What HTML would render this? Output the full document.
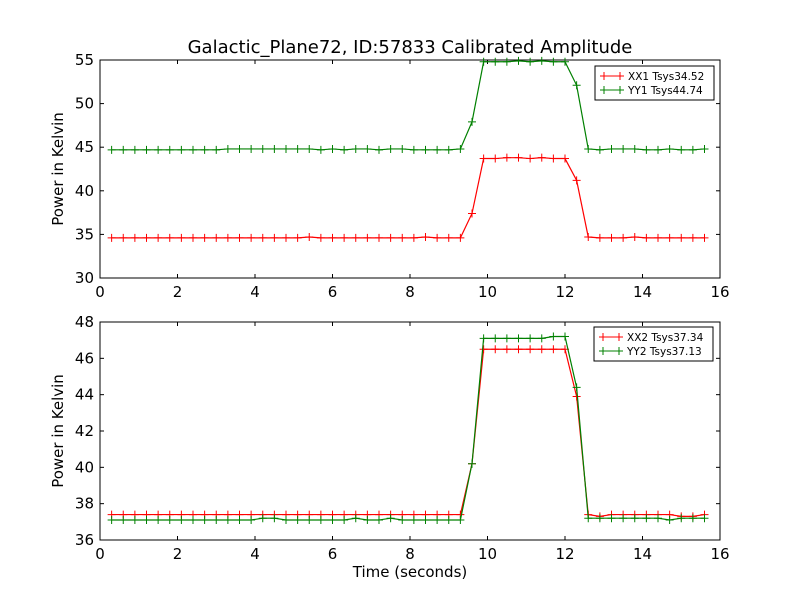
<!DOCTYPE html>
<html><head><meta charset="utf-8"><style>
body{margin:0;background:#fff;}
svg text{font-family:"DejaVu Sans","Liberation Sans",sans-serif;}
</style></head><body>
<svg id="chart" width="800" height="600" xmlns="http://www.w3.org/2000/svg">
<rect width="800" height="600" fill="#fff"/>
<text x="410" y="53" font-size="18" text-anchor="middle">Galactic_Plane72, ID:57833 Calibrated Amplitude</text>
<text x="410" y="577" font-size="15" text-anchor="middle">Time (seconds)</text>
<g id="p1"></g><g id="p2"></g>
</svg>
<script>
const times=[];for(let i=1;i<=52;i++)times.push(+(0.3*i).toFixed(1));
const xx1=[34.6,34.6,34.6,34.6,34.6,34.6,34.6,34.6,34.6,34.6,34.6,34.6,34.6,34.6,34.6,34.6,34.6,34.7,34.6,34.6,34.6,34.6,34.6,34.6,34.6,34.6,34.6,34.7,34.6,34.6,34.6,37.4,43.7,43.7,43.8,43.8,43.7,43.8,43.7,43.7,41.2,34.7,34.6,34.6,34.6,34.7,34.6,34.6,34.6,34.6,34.6,34.6];
const yy1=[44.7,44.7,44.7,44.7,44.7,44.7,44.7,44.7,44.7,44.7,44.8,44.8,44.8,44.8,44.8,44.8,44.8,44.8,44.7,44.8,44.7,44.8,44.8,44.7,44.8,44.8,44.7,44.7,44.7,44.7,44.8,47.9,54.8,54.8,54.8,54.9,54.8,54.9,54.8,54.8,52.1,44.8,44.7,44.8,44.8,44.8,44.7,44.7,44.8,44.7,44.7,44.8];
const xx2=[37.4,37.4,37.4,37.4,37.4,37.4,37.4,37.4,37.4,37.4,37.4,37.4,37.4,37.4,37.4,37.4,37.4,37.4,37.4,37.4,37.4,37.4,37.4,37.4,37.4,37.4,37.4,37.4,37.4,37.4,37.4,40.2,46.5,46.5,46.5,46.5,46.5,46.5,46.5,46.5,43.9,37.4,37.3,37.4,37.4,37.4,37.4,37.4,37.4,37.3,37.3,37.4];
const yy2=[37.1,37.1,37.1,37.1,37.1,37.1,37.1,37.1,37.1,37.1,37.1,37.1,37.1,37.2,37.2,37.1,37.1,37.1,37.1,37.1,37.1,37.2,37.1,37.1,37.2,37.1,37.1,37.1,37.1,37.1,37.1,40.2,47.1,47.1,47.1,47.1,47.1,47.1,47.2,47.2,44.4,37.2,37.2,37.2,37.2,37.2,37.2,37.2,37.1,37.2,37.2,37.2];
const xTicks=[0,2,4,6,8,10,12,14,16];
const y1Ticks=[30,35,40,45,50,55];
const y2Ticks=[36,38,40,42,44,46,48];
const NS="http://www.w3.org/2000/svg";
function mk(p,t,a){const e=document.createElementNS(NS,t);for(const k in a)e.setAttribute(k,a[k]);p.appendChild(e);return e;}
function panel(g,top,bottom,ymin,ymax,yTicks,series,legend,legX,legY){
  const L=100,R=720;
  const sx=v=>L+(v-0)/(16-0)*(R-L);
  const sy=v=>bottom-(v-ymin)/(ymax-ymin)*(bottom-top);
  const frame=mk(g,'rect',{x:L,y:top,width:R-L,height:bottom-top,fill:'none',stroke:'#000','stroke-width':1});
  
  
  xTicks.forEach(t=>{
    const x=sx(t);
    mk(g,'line',{x1:x,x2:x,y1:bottom,y2:bottom-4,stroke:'#000'});
    mk(g,'line',{x1:x,x2:x,y1:top,y2:top+4,stroke:'#000'});
    const tx=mk(g,'text',{x:x,y:bottom+19,'font-size':15,'text-anchor':'middle'});tx.textContent=t;
    
    
  });
  yTicks.forEach(t=>{
    const y=sy(t);
    mk(g,'line',{x1:L,x2:L+4,y1:y,y2:y,stroke:'#000'});
    mk(g,'line',{x1:R,x2:R-4,y1:y,y2:y,stroke:'#000'});
    const tx=mk(g,'text',{x:L-6,y:y+5,'font-size':15,'text-anchor':'end'});tx.textContent=t;
    
    
  });
  const yt=mk(g,'text',{x:0,y:0,'font-size':15,'text-anchor':'middle',transform:`translate(63,${(top+bottom)/2}) rotate(-90)`});
  yt.textContent='Power in Kelvin';
  
  
  series.forEach(s=>{
    const pts=times.map((t,i)=>sx(t)+','+sy(s.v[i])).join(' ');
    const pl=mk(g,'polyline',{points:pts,fill:'none',stroke:s.c,'stroke-width':1.2});
    
    
    times.forEach((t,i)=>{
      const x=sx(t),y=sy(s.v[i]);
      mk(g,'path',{d:`M${x-4},${y}H${x+4}M${x},${y-4}V${y+4}`,stroke:s.c,'stroke-width':1});
    });
  });
  const lg=mk(g,'g',{});
  
  
  mk(lg,'rect',{x:legX,y:legY,width:119,height:34,fill:'#fff',stroke:'#000','stroke-width':1});
  series.forEach((s,i)=>{
    const y=legY+10+i*14;
    mk(lg,'line',{x1:legX+5,x2:legX+29,y1:y,y2:y,stroke:s.c});
    mk(lg,'path',{d:`M${legX+9},${y-4}V${y+4}M${legX+25},${y-4}V${y+4}`,stroke:s.c});
    const tx=mk(lg,'text',{x:legX+33,y:y+4,'font-size':10.5});tx.textContent=legend[i];
    
    
  });
}
panel(document.getElementById('p1'),60,278,30,55,y1Ticks,[{v:xx1,c:'#ff0000'},{v:yy1,c:'#008000'}],['XX1 Tsys34.52','YY1 Tsys44.74'],595,66);
panel(document.getElementById('p2'),322,540,36,48,y2Ticks,[{v:xx2,c:'#ff0000'},{v:yy2,c:'#008000'}],['XX2 Tsys37.34','YY2 Tsys37.13'],594,327);
</script>
</body></html>
